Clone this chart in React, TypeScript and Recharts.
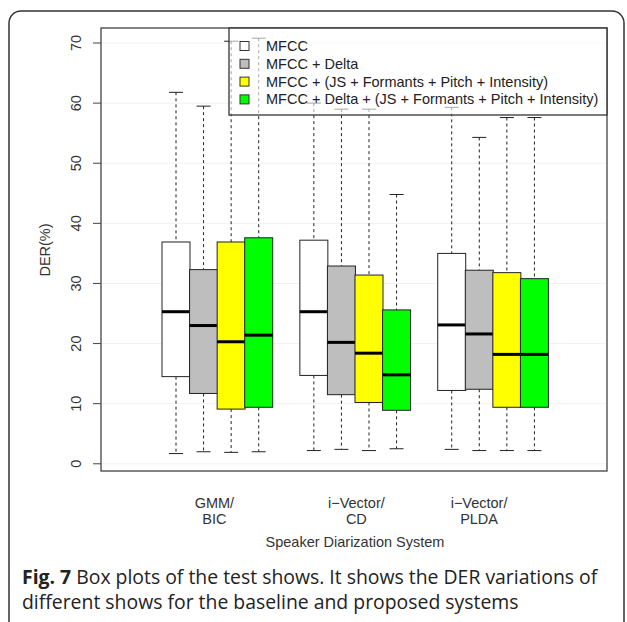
import React from 'react';
import { ComposedChart, Bar, XAxis, YAxis, CartesianGrid } from 'recharts';

// groups on the x axis, two text lines each
const groupLabels = [
  ['GMM/', 'BIC'],
  ['i\u2212Vector/', 'CD'],
  ['i\u2212Vector/', 'PLDA'],
];
// where each group label sits, in box units inside the group (0 = first box centre)
const labelAnchor = [1.4, 1.55, 1];

const seriesNames = [
  'MFCC',
  'MFCC + Delta',
  'MFCC + (JS + Formants + Pitch + Intensity)',
  'MFCC + Delta + (JS + Formants + Pitch + Intensity)',
];
const seriesColors = ['#ffffff', '#bebebe', '#ffff00', '#00ff00'];

// [series][group]
const lowWhisker = [
  [1.7, 2.2, 2.4],
  [2.0, 2.4, 2.2],
  [1.9, 2.2, 2.2],
  [2.0, 2.5, 2.2],
];
const q1 = [
  [14.5, 14.7, 12.2],
  [11.7, 11.5, 12.4],
  [9.1, 10.2, 9.4],
  [9.4, 8.9, 9.4],
];
const median = [
  [25.3, 25.3, 23.1],
  [23.0, 20.2, 21.6],
  [20.3, 18.4, 18.2],
  [21.4, 14.8, 18.2],
];
const q3 = [
  [36.9, 37.2, 35.0],
  [32.3, 32.9, 32.2],
  [36.9, 31.4, 31.8],
  [37.6, 25.6, 30.8],
];
const highWhisker = [
  [61.8, 60.0, 59.3],
  [59.5, 59.0, 54.3],
  [70.3, 59.0, 57.6],
  [70.8, 44.8, 57.6],
];

const yTicks = [0, 10, 20, 30, 40, 50, 60, 70];
const yDomain: [number, number] = [-1.2, 72.5];

type Row = {
  slot: string;
  group: number;
  series: number;
  lo?: number;
  q1?: number;
  med?: number;
  q3?: number;
  hi?: number;
};

const rows: Row[] = [];
groupLabels.forEach((_, g) => {
  if (g > 0) rows.push({ slot: `gap${g}`, group: g, series: -1 });
  seriesNames.forEach((_, s) => {
    rows.push({
      slot: `g${g}s${s}`,
      group: g,
      series: s,
      lo: lowWhisker[s][g],
      q1: q1[s][g],
      med: median[s][g],
      q3: q3[s][g],
      hi: highWhisker[s][g],
    });
  });
});

const rangeKey = (d: Row) => (d.hi != null ? [d.lo, d.hi] : null);

const BoxShape = (props: any) => {
  const { x, y, width, height, payload } = props;
  if (!payload || payload.hi == null) return null;
  const top = Math.min(y, y + height);
  const bottom = Math.max(y, y + height);
  const k = (bottom - top) / (payload.hi - payload.lo);
  const py = (v: number) => bottom - (v - payload.lo) * k;
  const cx = x + width / 2;
  const cap = width / 4;
  const stroke = '#222';
  return (
    <g>
      <line x1={cx} x2={cx} y1={py(payload.hi)} y2={py(payload.q3)} stroke={stroke} strokeDasharray="3 3" />
      <line x1={cx} x2={cx} y1={py(payload.q1)} y2={py(payload.lo)} stroke={stroke} strokeDasharray="3 3" />
      <line x1={cx - cap} x2={cx + cap} y1={py(payload.hi)} y2={py(payload.hi)} stroke={stroke} />
      <line x1={cx - cap} x2={cx + cap} y1={py(payload.lo)} y2={py(payload.lo)} stroke={stroke} />
      <rect
        x={x}
        y={py(payload.q3)}
        width={width}
        height={py(payload.q1) - py(payload.q3)}
        fill={seriesColors[payload.series]}
        stroke={stroke}
        strokeWidth={1}
      />
      <line x1={x} x2={x + width} y1={py(payload.med)} y2={py(payload.med)} stroke="#000" strokeWidth={3} />
    </g>
  );
};

const XTick = (props: any) => {
  const { x, y, payload, index } = props;
  const row = rows[index] ?? rows.find((r) => r.slot === payload?.value);
  if (!row || row.series < 0) return null;
  const anchor = labelAnchor[row.group];
  if (row.series !== Math.floor(anchor)) return null;
  const band = payload?.offset ? payload.offset * 2 : 27.57;
  const lx = x + (anchor - Math.floor(anchor)) * band;
  const [l1, l2] = groupLabels[row.group];
  return (
    <text x={lx} y={y} textAnchor="middle" fontFamily="Liberation Sans, Arial, sans-serif" fontSize={14.5} fill="#333">
      <tspan x={lx} dy={37}>{l1}</tspan>
      <tspan x={lx} dy={16}>{l2}</tspan>
    </text>
  );
};

const YTick = (props: any) => {
  const { x, y, payload } = props;
  const tx = x - 15;
  return (
    <text
      x={tx}
      y={y}
      transform={`rotate(-90, ${tx}, ${y})`}
      textAnchor="middle"
      dominantBaseline="central"
      fontFamily="Liberation Sans, Arial, sans-serif"
      fontSize={14.5}
      fill="#333"
    >
      {payload.value}
    </text>
  );
};

const font = 'Liberation Sans, Arial, sans-serif';

export default function App() {
  return (
    <div style={{ position: 'absolute', left: 0, top: 0, width: 627, height: 622, background: '#fff' }}>
      <ComposedChart
        width={627}
        height={622}
        data={rows}
        margin={{ top: 28, right: 20, bottom: 111, left: 0 }}
        barCategoryGap={0}
        barGap={0}
      >
        <CartesianGrid vertical={false} stroke="#f1f1f1" />
        <XAxis
          dataKey="slot"
          type="category"
          interval={0}
          padding={{ left: 61, right: 59 }}
          axisLine={false}
          tickLine={false}
          tickSize={0}
          tickMargin={0}
          height={40}
          tick={<XTick />}
        />
        <YAxis
          type="number"
          domain={yDomain}
          ticks={yTicks}
          allowDataOverflow
          width={101}
          axisLine={false}
          tickSize={8}
          tickMargin={2}
          tickLine={{ stroke: '#444' }}
          tick={<YTick />}
        />
        <Bar dataKey={rangeKey} shape={<BoxShape />} isAnimationActive={false} />
      </ComposedChart>

      <svg width={627} height={622} style={{ position: 'absolute', left: 0, top: 0, pointerEvents: 'none' }}>
        {/* plot frame */}
        <rect x={101} y={28} width={506} height={443} fill="none" stroke="#444" strokeWidth={1.3} />
        {/* legend */}
        <rect x={229} y={28} width={378} height={87} fill="#fff" fillOpacity={0.6} stroke="#333" strokeWidth={1.3} />
        {seriesNames.map((name, i) => {
          const cy = 46 + i * 17.8;
          return (
            <g key={name}>
              <rect x={240} y={cy - 4.5} width={9} height={9} fill={seriesColors[i]} stroke="#333" />
              <text x={266} y={cy} dominantBaseline="central" fontFamily={font} fontSize={14.5} fill="#222">
                {name}
              </text>
            </g>
          );
        })}
        {/* axis titles */}
        <text
          x={45}
          y={250}
          transform="rotate(-90, 45, 250)"
          textAnchor="middle"
          dominantBaseline="central"
          fontFamily={font}
          fontSize={14.5}
          fill="#333"
        >
          DER(%)
        </text>
        <text x={355} y={547} textAnchor="middle" fontFamily={font} fontSize={14.5} fill="#333">
          Speaker Diarization System
        </text>
        {/* figure box and caption */}
        <rect x={9} y={11} width={615} height={640} rx={12} fill="none" stroke="#333" strokeWidth={1.5} />
        <text x={22} y={584} fontFamily="Open Sans, Noto Sans, sans-serif" fontSize={19.4} fill="#222">
          <tspan fontWeight="bold">Fig. 7</tspan> Box plots of the test shows. It shows the DER variations of
        </text>
        <text x={22} y={609} fontFamily="Open Sans, Noto Sans, sans-serif" fontSize={19.4} fill="#222">
          different shows for the baseline and proposed systems
        </text>
      </svg>
    </div>
  );
}
